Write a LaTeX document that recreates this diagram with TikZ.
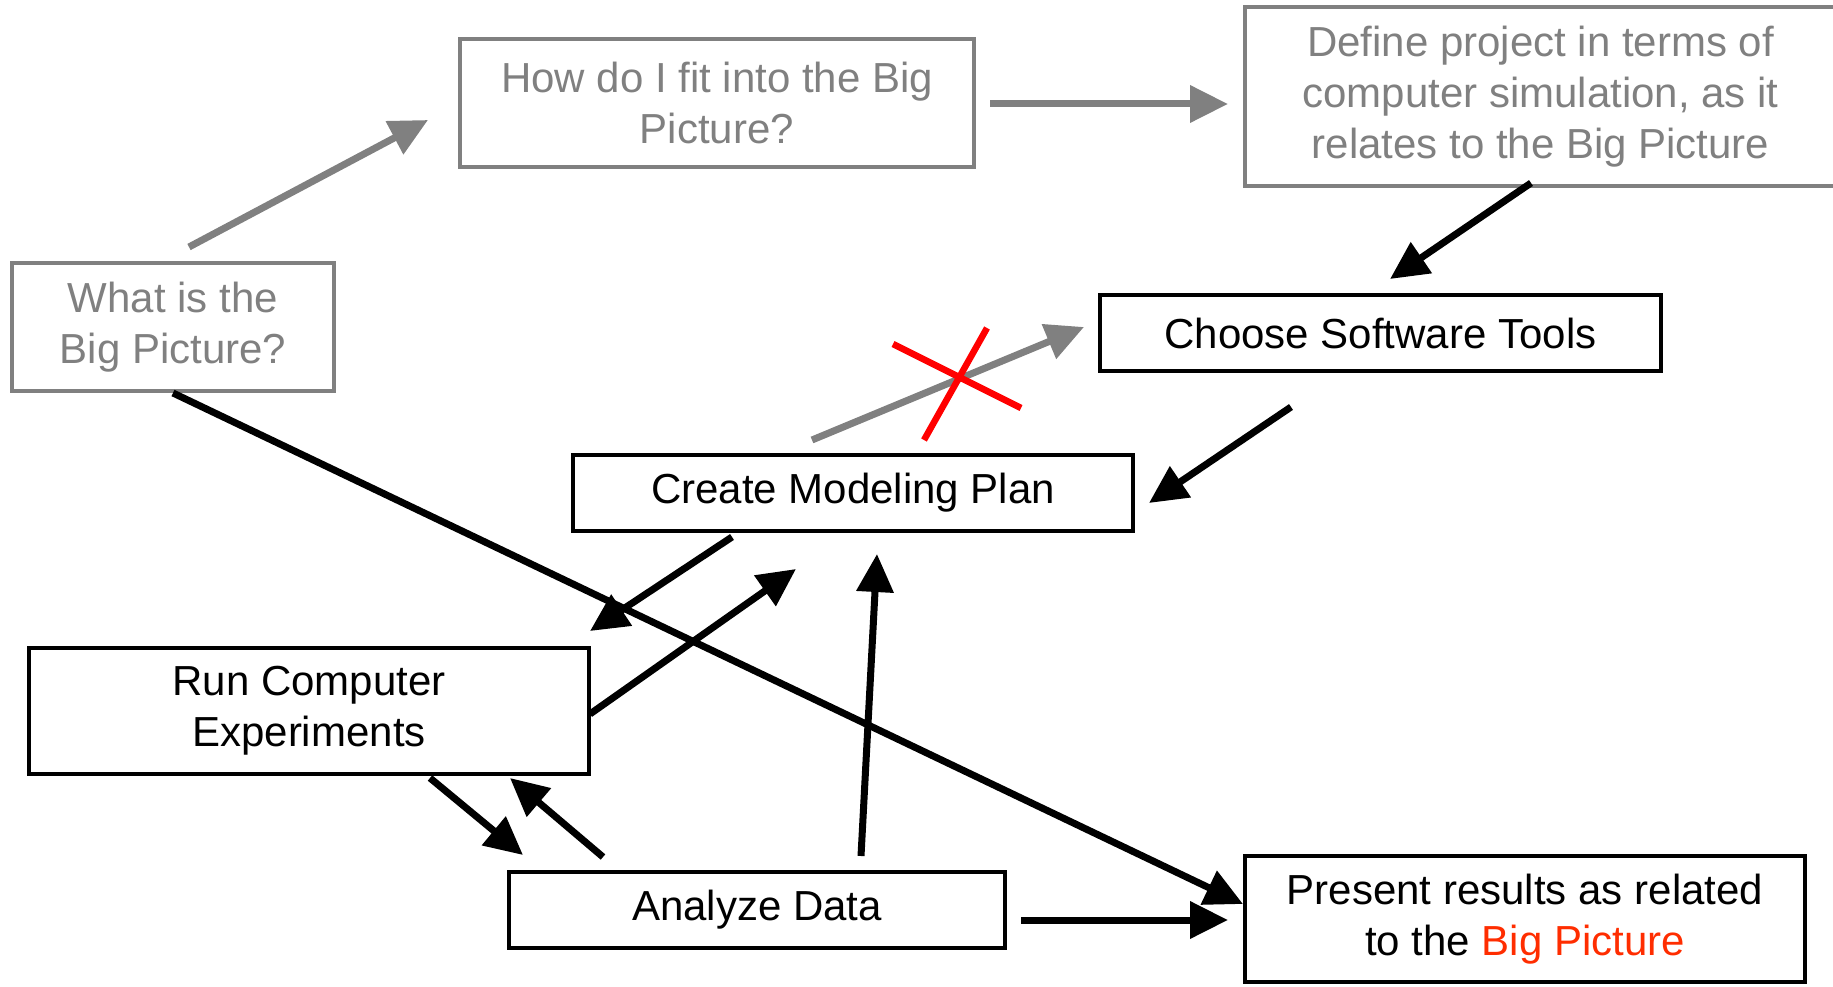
\documentclass[tikz,border=0pt]{standalone}
\usepackage{fontspec}
\setmainfont{Liberation Sans}
\usetikzlibrary{arrows.meta}
\definecolor{gr}{RGB}{128,128,128}
\definecolor{bigred}{RGB}{255,45,0}
\definecolor{xred}{RGB}{255,0,0}
\begin{document}
\begin{tikzpicture}[x=1pt,y=-1pt,
  box/.style={draw=black,line width=3.5pt,rectangle,inner sep=0pt,align=center,
    font=\fontsize{42}{51}\selectfont},
  gbox/.style={box,draw=gr,text=gr},
  arr/.style={line width=7pt,draw=black,-{Triangle[length=38pt,width=36pt]}},
  garr/.style={arr,draw=gr},
  cross/.style={line width=6.5pt,draw=xred}]
\useasboundingbox (0,0) rectangle (1833,987);

% nodes
\node[gbox,minimum width=322pt,minimum height=128pt] (what) at (173,327) {What is the\\Big Picture?};
\node[gbox,minimum width=514pt,minimum height=128pt] (how) at (717,103) {How do I fit into the Big\\Picture?};
\node[gbox,minimum width=591pt,minimum height=179pt] (define) at (1540.5,96.5) {Define project in terms of\\computer simulation, as it\\relates to the Big Picture};
\node[box,minimum width=561pt,minimum height=76pt] (choose) at (1380.5,333) {Choose Software Tools};
\node[box,minimum width=560pt,minimum height=76pt] (create) at (853,493) {Create Modeling Plan};
\node[box,minimum width=560pt,minimum height=126pt] (run) at (309,711) {Run Computer\\Experiments};
\node[box,minimum width=496pt,minimum height=76pt] (analyze) at (757,910) {Analyze Data};
\node[box,minimum width=560pt,minimum height=126pt] (present) at (1525,919) {Present results as related\\to the \textcolor{bigred}{Big Picture}};

% connector end points
\coordinate (whatA) at (189,247);   \coordinate (howA) at (428,120);
\coordinate (howB) at (990,104);    \coordinate (defineB) at (1228,104);
\coordinate (defineC) at (1531,183);\coordinate (chooseC) at (1390,279);
\coordinate (createD) at (812,440); \coordinate (chooseD) at (1084,327);
\coordinate (chooseE) at (1291,407);\coordinate (createE) at (1149,503);
\coordinate (createF) at (732,537); \coordinate (runF) at (590,631);
\coordinate (runG) at (590,714);    \coordinate (createG) at (796,569);
\coordinate (analyzeH) at (861,856);\coordinate (createH) at (877,554);
\coordinate (runI) at (430,778);    \coordinate (analyzeI) at (523,855);
\coordinate (analyzeJ) at (603,857);\coordinate (runJ) at (510,778);
\coordinate (whatK) at (173,393);   \coordinate (presentK) at (1243,904);
\coordinate (analyzeL) at (1021,920);\coordinate (presentL) at (1228,920);

% gray connectors
\draw[garr] (whatA) -- (howA);
\draw[garr] (howB) -- (defineB);
\draw[garr] (createD) -- (chooseD);

% black connectors
\draw[arr] (defineC) -- (chooseC);
\draw[arr] (chooseE) -- (createE);
\draw[arr] (createF) -- (runF);
\draw[arr] (runG) -- (createG);
\draw[arr] (analyzeH) -- (createH);
\draw[arr] (runI) -- (analyzeI);
\draw[arr] (analyzeJ) -- (runJ);
\draw[arr] (whatK) -- (presentK);
\draw[arr] (analyzeL) -- (presentL);

% red cross
\draw[cross] (893,344) -- (1021,408);
\draw[cross] (987,328) -- (924,440);
\end{tikzpicture}
\end{document}
